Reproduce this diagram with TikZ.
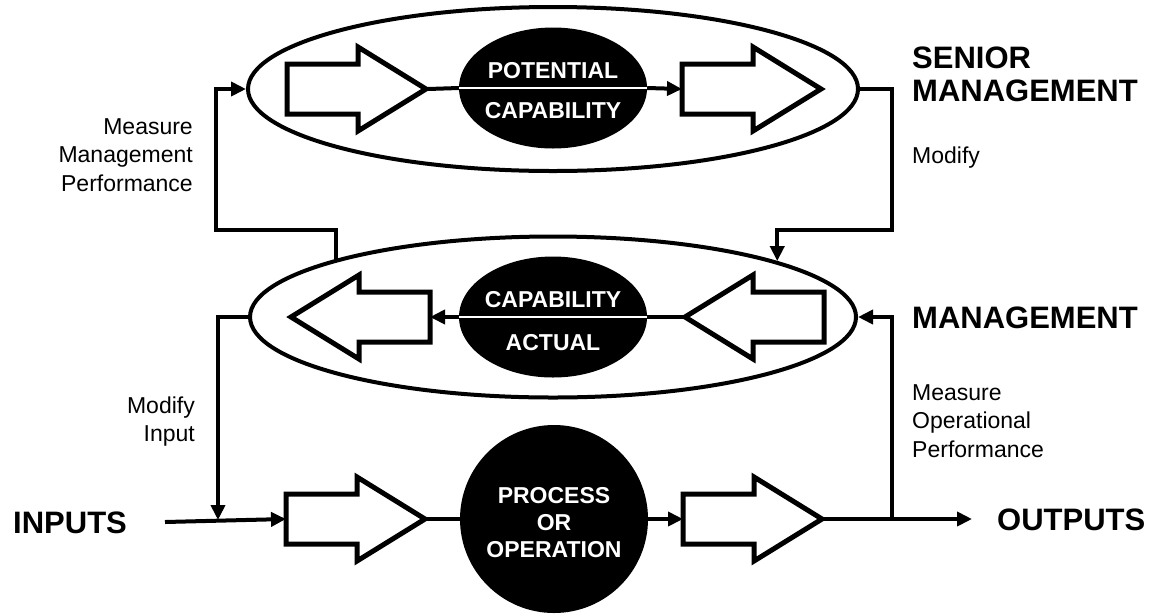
\documentclass[tikz,border=0pt]{standalone}
\usepackage{fontspec}
\setmainfont{Liberation Sans}
\usetikzlibrary{shapes.geometric,arrows.meta}
\begin{document}
\begin{tikzpicture}[x=1pt,y=-1pt,
  conn/.style={line width=4pt},
  arr/.style={conn,-{Triangle[length=15pt,width=14pt]}},
  bigell/.style={ellipse,draw,line width=4pt,inner sep=0pt},
  blackell/.style={ellipse,fill=black,inner sep=0pt,minimum width=188pt,minimum height=121pt},
  whiteline/.style={line width=2.5pt,white},
  fatline/.style={line width=5pt,line join=miter,fill=white},
  lab/.style={font=\fontsize{23}{28.5}\selectfont,inner sep=0pt},
  biglab/.style={font=\fontsize{31}{33}\selectfont\bfseries,inner sep=0pt},
  inlab/.style={font=\fontsize{23}{27}\selectfont\bfseries,text=white,inner sep=0pt,anchor=base},
  rarrow/.pic={
    \draw[fatline] (0,-25) -- (71,-25) -- (71,-42) -- (139,0) -- (71,42) -- (71,25) -- (0,25) -- cycle;
    \coordinate (-tail) at (0,0);
    \coordinate (-tip) at (141,0);
  },
  larrow/.pic={
    \draw[fatline] (0,-25) -- (-71,-25) -- (-71,-42) -- (-139,0) -- (-71,42) -- (-71,25) -- (0,25) -- cycle;
    \coordinate (-tail) at (0,0);
    \coordinate (-tip) at (-141,0);
  }
]
\fill[white] (0,0) rectangle (1155,614);
\useasboundingbox (0,0) rectangle (1155,614);

% big ellipses
\node[bigell,minimum width=610pt,minimum height=164pt] (top) at (553,89) {};
\node[bigell,minimum width=606pt,minimum height=161pt] (mid) at (553,317) {};

% fat arrows
\pic (ta1) at (287,89) {rarrow};
\pic (ta2) at (682,89) {rarrow};
\pic (ma1) at (430,317) {larrow};
\pic (ma2) at (824,317) {larrow};
\pic (ba1) at (286,519) {rarrow};
\pic (ba2) at (683,519) {rarrow};

% black ellipses
\node[blackell] (pc) at (553,88) {};
\node[blackell] (ca) at (553,317) {};
\node[blackell,circle,minimum size=188pt] (po) at (554,519) {};

\draw[whiteline] (pc.west) -- (pc.east);
\draw[whiteline] (ca.west) -- (ca.east);

% coordinates
\coordinate (rc) at (892,230);
\coordinate (lc) at (216,230);
\coordinate (ij) at (218,520);
\coordinate (oj) at (892,519);
\coordinate (inS) at (165,522);
\coordinate (outE) at (972,519);

% connectors
\draw[conn] (ta1-tip) -- (pc.west);
\draw[arr] (pc.east) -- (ta2-tail);
\draw[conn] (ma2-tip) -- (ca.east);
\draw[arr] (ca.west) -- (ma1-tail);
\draw[conn] (ba1-tip) -- (po.west);
\draw[arr] (po.east) -- (ba2-tail);

\draw[arr] (top.east) -| (rc) -| (mid.14.8);
\draw[arr] (mid.165.2) |- (lc) |- (top.west);
\draw[arr] (mid.west) -| (ij);
\draw[arr] (oj) |- (mid.east);
\draw[arr] (inS) -- (ba1-tail);
\draw[arr] (ba2-tip) -- (outE);

% inner labels
\node[inlab] (t1) at (553,78.5) {POTENTIAL};
\node[inlab] (t2) at (553,118.5) {CAPABILITY};
\node[inlab] (t3) at (553,307) {CAPABILITY};
\node[inlab] (t4) at (553,350) {ACTUAL};
\node[inlab,align=center,text width=180pt] (t5) at (554,503) {PROCESS\\OR\\OPERATION};

% side labels
\node[biglab,anchor=base west,align=left,text width=240pt] (l1) at (912,68) {SENIOR\\MANAGEMENT};
\node[lab,anchor=base west] (l2) at (912,163) {Modify};
\node[lab,anchor=base east,align=right,text width=200pt] (l3) at (193,134) {Measure\\Management\\Performance};
\node[biglab,anchor=base west] (l4) at (912,328) {MANAGEMENT};
\node[lab,anchor=base east,align=right,text width=120pt] (l5) at (195,413) {Modify\\Input};
\node[lab,anchor=base west,align=left,text width=200pt] (l6) at (912,400) {Measure\\Operational\\Performance};
\node[biglab,anchor=base west] (l7) at (13,533) {INPUTS};
\node[biglab,anchor=base west] (l8) at (997,530) {OUTPUTS};
\end{tikzpicture}
\end{document}
